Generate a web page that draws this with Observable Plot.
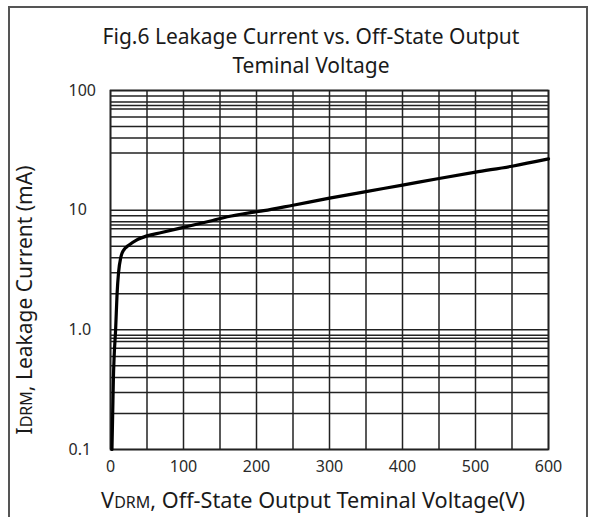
<!DOCTYPE html>
<html>
<head>
<meta charset="utf-8">
<script src="https://cdn.jsdelivr.net/npm/d3@7"></script>
<script src="https://cdn.jsdelivr.net/npm/@observablehq/plot@0.6"></script>
<style>
  html, body { margin: 0; padding: 0; background: #fff; }
  #wrap { position: relative; width: 592px; height: 517px; overflow: hidden; font-family: "Noto Sans", "Open Sans", sans-serif; color: #1a1a1a; }
  #border { position: absolute; left: 8px; top: 6px; width: 580px; height: 530px; border: 2px solid #555; box-sizing: border-box; }
  #title { position: absolute; left: 0; top: 22px; width: 622px; text-align: center; font-size: 21px; line-height: 28.8px; white-space: nowrap; }
  #xlabel { position: absolute; left: 0; width: 626px; text-align: center; top: 485px; font-size: 21.7px; white-space: nowrap; }
  #ylabel { position: absolute; left: 24px; top: 300px; transform: translate(-50%, -50%) rotate(-90deg); font-size: 21px; white-space: nowrap; }
  .sub { font-size: 16px; }
  #chart { position: absolute; left: 0; top: 0; }
</style>
</head>
<body>
<div id="wrap">
  <div id="chart"></div>
  <div id="border"></div>
  <div id="title">Fig.6 Leakage Current vs. Off-State Output<br>Teminal Voltage</div>
  <div id="xlabel">V<span class="sub">DRM</span>, Off-State Output Teminal Voltage(V)</div>
  <div id="ylabel">I<span class="sub">DRM</span>, Leakage Current (mA)</div>
</div>
<script>
// Curve: off-state voltage (V) vs leakage current (mA)
const voltage = [2, 3, 4, 5, 7, 9, 11, 14, 16, 20, 25, 35, 50, 70, 105, 140, 160, 190, 210, 250, 300, 350, 400, 450, 500, 550, 600];
const current = [0.1, 0.2, 0.4, 0.6, 1.0, 2.0, 3.0, 4.0, 4.4, 4.8, 5.1, 5.6, 6.1, 6.5, 7.3, 8.2, 8.8, 9.5, 9.9, 11.0, 12.6, 14.3, 16.2, 18.4, 20.8, 23.3, 26.8];

// Axis ticks
const xTicks = [0, 100, 200, 300, 400, 500, 600];
const yTicks = [0.1, 1, 10, 100];
const yTickLabels = ["0.1", "1.0", "10", "100"];

// Grid lines
const gridX = [0, 50, 100, 150, 200, 250, 300, 350, 400, 450, 500, 550, 600];
const gridY = [100, 90, 80, 75, 70, 60, 50, 40, 30,
               10, 9, 8, 7.5, 7, 6, 5, 4, 3, 2,
               1, 0.9, 0.85, 0.8, 0.7, 0.6, 0.5, 0.4, 0.3, 0.2, 0.1];

const data = voltage.map((v, i) => ({v, c: current[i]}));

const chart = Plot.plot({
  width: 592,
  height: 517,
  marginLeft: 110,
  marginRight: 44,
  marginTop: 90,
  marginBottom: 68,
  style: {fontFamily: "Noto Sans, Open Sans, sans-serif", fontSize: "16px", color: "#2a2a2a", background: "transparent"},
  x: {domain: [0, 600]},
  y: {type: "log", domain: [0.1, 100]},
  marks: [
    Plot.ruleX(gridX, {x: d => d, stroke: "#222", strokeWidth: 1.5}),
    Plot.ruleY(gridY, {y: d => d, stroke: "#222", strokeWidth: 1.5}),
    Plot.frame({stroke: "#222", strokeWidth: 1.7}),
    Plot.line(data, {x: "v", y: "c", stroke: "#000", strokeWidth: 3.2, curve: "monotone-x"}),
    Plot.axisX({ticks: xTicks, tickSize: 0, tickPadding: 11, label: null, fontSize: 16}),
    Plot.axisY({ticks: yTicks, tickFormat: (d, i) => yTickLabels[yTicks.indexOf(d)], tickSize: 0, tickPadding: 0, textAnchor: "start", dx: -42, label: null, fontSize: 16})
  ]
});
document.getElementById("chart").appendChild(chart);
</script>
</body>
</html>
